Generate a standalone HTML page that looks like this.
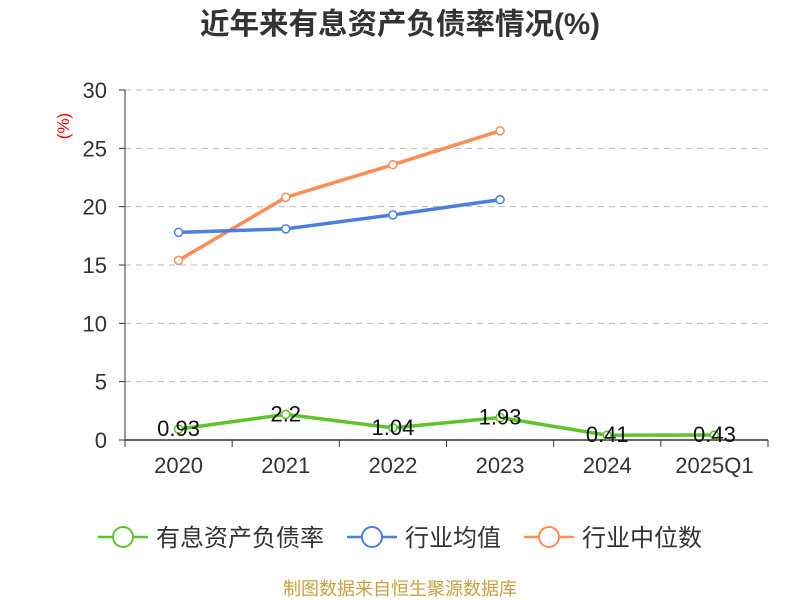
<!DOCTYPE html>
<html><head><meta charset="utf-8">
<style>
body{margin:0;background:#fff;}
svg{display:block;font-family:"Liberation Sans","Noto Sans CJK SC",sans-serif;}
</style></head>
<body>
<svg id="chart" width="800" height="600">
<text x="400" y="34" text-anchor="middle" font-size="29.5" font-weight="bold" fill="#333">近年来有息资产负债率情况(%)</text>
<text x="0" y="0" transform="translate(69,126) rotate(-90)" text-anchor="middle" font-size="17" fill="#e00">(%)</text>
<g id="grid"></g><g id="axes"></g><g id="series"></g>
<g id="legend"></g>
<text x="400" y="595" text-anchor="middle" font-size="18" fill="#c8a040">制图数据来自恒生聚源数据库</text>
</svg>
<script>
const categories=["2020","2021","2022","2023","2024","2025Q1"];
const companyValues=[0.93,2.2,1.04,1.93,0.41,0.43];
const companyLabels=["0.93","2.2","1.04","1.93","0.41","0.43"];
const industryAvg=[17.8,18.1,19.3,20.6];
const industryMedian=[15.4,20.8,23.6,26.5];
const yTicks=[0,5,10,15,20,25,30];
const NS="http://www.w3.org/2000/svg";
const L=125,R=768,T=90,B=440,yMax=30;
const bw=(R-L)/categories.length;
const xs=i=>L+bw*(i+0.5);
const ys=v=>B-(v/yMax)*(B-T);
function mk(tag,attrs,parent,text){const e=document.createElementNS(NS,tag);for(const k in attrs)e.setAttribute(k,attrs[k]);if(text!==undefined)e.textContent=text;parent.appendChild(e);return e;}
const grid=document.getElementById('grid'),axes=document.getElementById('axes'),ser=document.getElementById('series'),leg=document.getElementById('legend');
yTicks.forEach(t=>{
 if(t>0){const g=mk('line',{x1:L,x2:R,y1:ys(t),y2:ys(t),stroke:'#bbb','stroke-dasharray':'6,5'},grid);
 
 }
 const tk=mk('line',{x1:L-6,x2:L,y1:ys(t),y2:ys(t),stroke:'#333'},axes);
 
 
 const lb=mk('text',{x:L-18,y:ys(t)+8,'text-anchor':'end','font-size':22,fill:'#333'},axes,t);
 
 
});
const ya=mk('line',{x1:L,x2:L,y1:T,y2:B,stroke:'#333'},axes);


const xa=mk('line',{x1:L,x2:R,y1:B,y2:B,stroke:'#333','stroke-width':1.5},axes);


for(let i=0;i<=categories.length;i++){const tk=mk('line',{x1:L+bw*i,x2:L+bw*i,y1:B,y2:B+7,stroke:'#333'},axes);
 
 }
categories.forEach((c,i)=>{const t=mk('text',{x:xs(i),y:B+33,'text-anchor':'middle','font-size':22,fill:'#333'},axes,c);
 
 });
function series(vals,color,name){
 const p=mk('polyline',{points:vals.map((v,i)=>xs(i)+','+ys(v)).join(' '),fill:'none',stroke:color,'stroke-width':3.5},ser);
 
 
 vals.forEach((v,i)=>{const c=mk('circle',{cx:xs(i),cy:ys(v),r:4,fill:'#fff',stroke:color,'stroke-width':1.5},ser);
 
 });
}
series(industryMedian,'#ff8c55','industry-median');
series(industryAvg,'#4a7fe0','industry-average');
series(companyValues,'#5cc52a','company-ratio');
companyValues.forEach((v,i)=>{const t=mk('text',{x:xs(i),y:ys(v)+7,'text-anchor':'middle','font-size':22,fill:'#111'},ser,companyLabels[i]);
 
 });
const items=[["有息资产负债率",'#5cc52a',98],["行业均值",'#4a7fe0',347],["行业中位数",'#ff8c55',524]];
items.forEach(([n,c,x])=>{
 const g=mk('g',{},leg);
 
 
 mk('line',{x1:x,x2:x+50,y1:537,y2:537,stroke:c,'stroke-width':2.5},g);
 mk('circle',{cx:x+25,cy:537,r:10,fill:'#fff',stroke:c,'stroke-width':2},g);
 mk('text',{x:x+58,y:546,'font-size':24,fill:'#333'},g,n);
});
</script>
</body></html>
